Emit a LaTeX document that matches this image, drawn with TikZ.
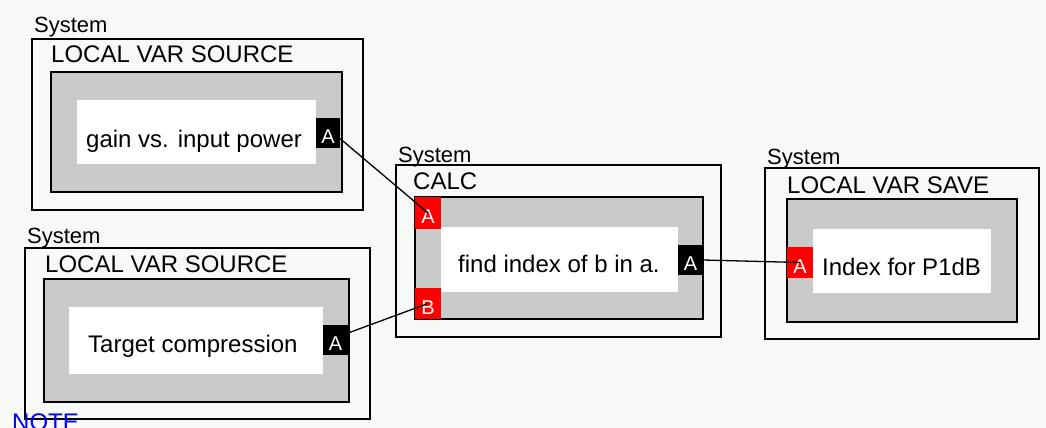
\documentclass[tikz,border=0pt]{standalone}
\usepackage{fontspec}
\setmainfont{Liberation Sans}
\definecolor{bgc}{HTML}{F6F9F6}
\definecolor{grayc}{HTML}{C8CBC8}
\definecolor{redc}{HTML}{FF0000}
\definecolor{notec}{HTML}{0000FF}
\newcommand{\portlet}[1]{\raisebox{-4pt}[\height][0pt]{#1}}
\begin{document}
\begin{tikzpicture}[x=1pt,y=-1pt,
  outerbox/.style={draw=black,line width=1.6pt,fill=bgc,inner sep=0pt,minimum width=#1},
  graybox/.style={draw=black,line width=1.6pt,fill=grayc,inner sep=0pt},
  whitebox/.style={fill=white,inner sep=0pt},
  blackport/.style={fill=black,text=white,inner sep=0pt,font=\fontsize{20}{20}\selectfont},
  redport/.style={fill=redc,text=white,inner sep=0pt,font=\fontsize{20}{20}\selectfont},
  systxt/.style={anchor=base west,inner sep=0pt,font=\fontsize{22}{22}\selectfont},
  titletxt/.style={anchor=base west,inner sep=0pt,font=\fontsize{24}{24}\selectfont},
  labeltxt/.style={anchor=base west,inner sep=0pt,font=\fontsize{24}{24}\selectfont},
  wire/.style={draw=black,line width=1.3pt}
]
\useasboundingbox (0,0) rectangle (1046,428);
\fill[bgc] (0,0) rectangle (1046,428);

% Block 1
\node[outerbox=331pt,minimum height=171pt] (outer1) at (197.5,124.5) {};
\node[graybox,minimum width=291pt,minimum height=120pt] (gray1) at (196.5,132) {};
\node[whitebox,minimum width=239pt,minimum height=64pt] (white1) at (196.5,132) {};
\node[blackport,minimum width=24pt,minimum height=30pt] (port1) at (328,133) {\portlet{A}};
\node[systxt] (sys1) at (34,33) {System};
\node[titletxt] (title1) at (51,63) {LOCAL VAR SOURCE};
\node[labeltxt] (label1) at (86,147) {gain vs. input power};

% Block 2
\node[outerbox=345pt,minimum height=171pt] (outer2) at (197.5,333.5) {};
\node[graybox,minimum width=305pt,minimum height=123pt] (gray2) at (196.5,340.5) {};
\node[whitebox,minimum width=254pt,minimum height=67pt] (white2) at (196,340.5) {};
\node[blackport,minimum width=25pt,minimum height=30pt] (port2) at (335.5,340) {\portlet{A}};
\node[systxt] (sys2) at (27,243) {System};
\node[titletxt] (title2) at (45,272) {LOCAL VAR SOURCE};
\node[labeltxt] (label2) at (88,352) {Target compression};

% Block 3 (CALC)
\node[outerbox=325pt,minimum height=172pt] (outer3) at (558.5,251) {};
\node[graybox,minimum width=288pt,minimum height=122pt] (gray3) at (559,258) {};
\node[whitebox,minimum width=237pt,minimum height=65pt] (white3) at (559.5,259.5) {};
\node[redport,minimum width=26pt,minimum height=32pt] (portA3) at (428,213) {\portlet{A}};
\node[redport,minimum width=26pt,minimum height=31pt] (portB3) at (428,303.5) {\portlet{B}};
\node[blackport,minimum width=25pt,minimum height=30pt] (portOut3) at (690.5,260) {\portlet{A}};
\node[systxt] (sys3) at (398,162) {System};
\node[titletxt] (title3) at (413,189) {CALC};
\node[labeltxt] (label3) at (458,272) {find index of b in a.};

% Block 4 (SAVE)
\node[outerbox=274pt,minimum height=171pt] (outer4) at (902,253.5) {};
\node[graybox,minimum width=230pt,minimum height=123pt] (gray4) at (902,260.5) {};
\node[whitebox,minimum width=178pt,minimum height=64pt] (white4) at (902,261) {};
\node[redport,minimum width=26pt,minimum height=31pt] (port4) at (800,262.5) {\portlet{A}};
\node[systxt] (sys4) at (767,164) {System};
\node[titletxt] (title4) at (787,193) {LOCAL VAR SAVE};
\node[labeltxt] (label4) at (822,275) {Index for P1dB};

% NOTE (cut off at the bottom edge, as in the reference)
\node[anchor=base west,inner sep=0pt,text=notec,font=\fontsize{24}{24}\selectfont] (note) at (12,430) {NOTE};

% Wires
\draw[wire] (port1.-25) -- (portA3.center);
\draw[wire] (port2.29) -- (portB3.center);
\draw[wire] (portOut3.east) -- (port4.center);
\end{tikzpicture}
\end{document}
